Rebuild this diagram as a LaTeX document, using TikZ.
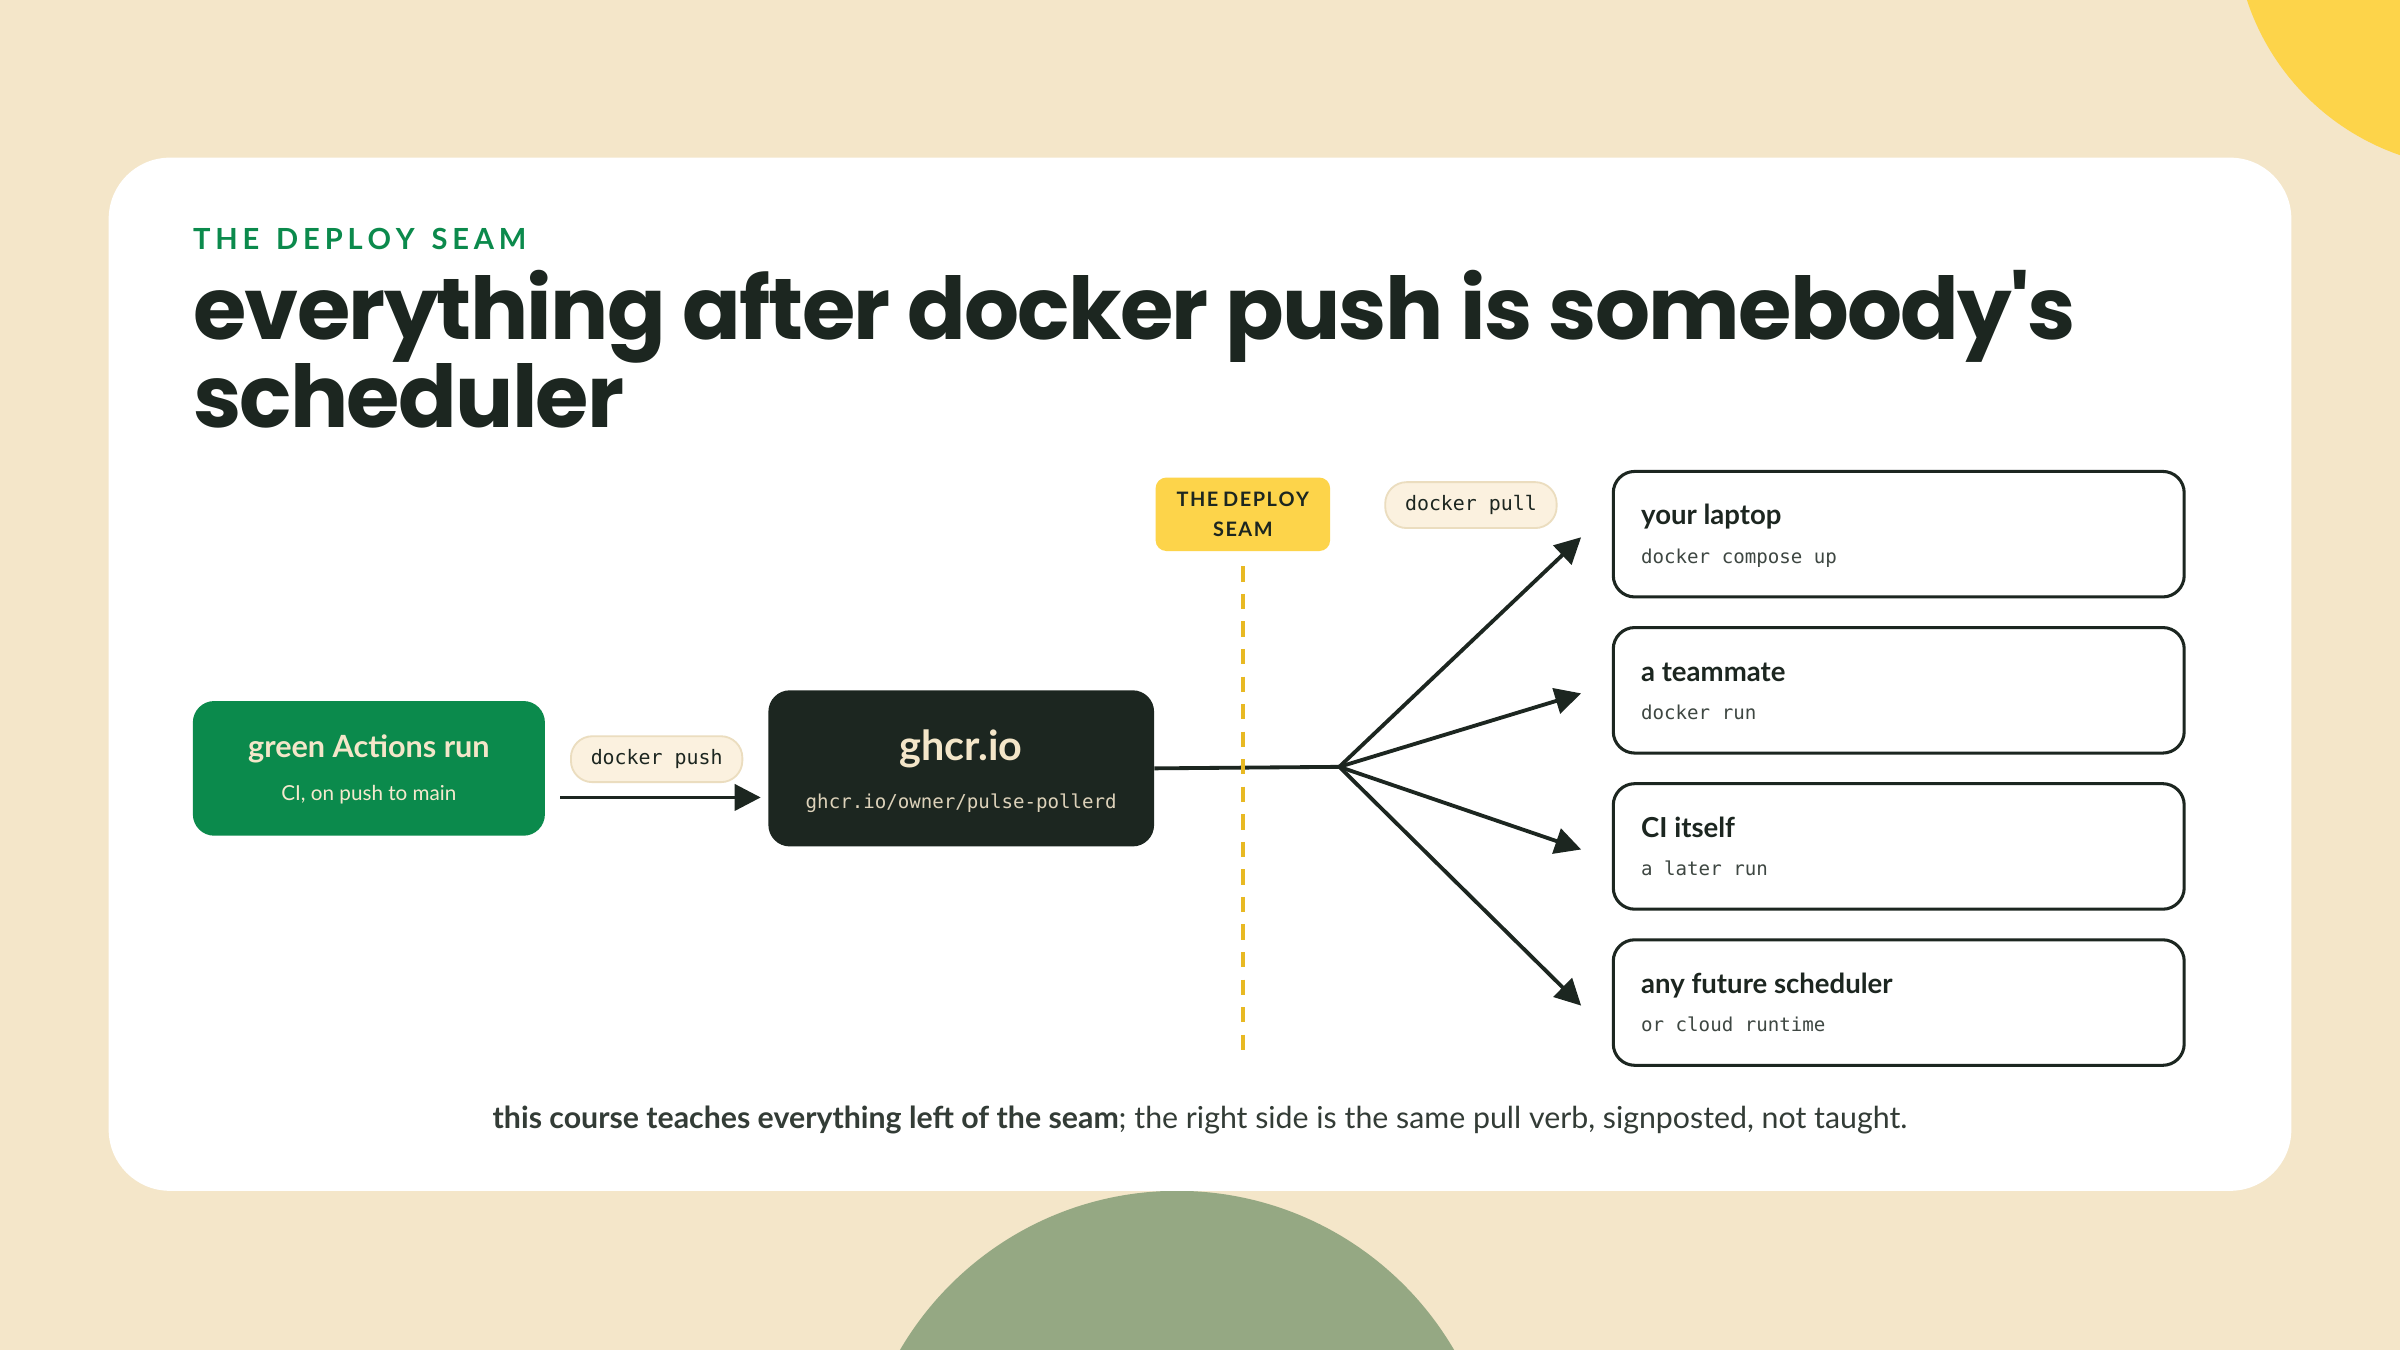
\documentclass[tikz,border=0pt]{standalone}
\usepackage{fontspec}
\setmainfont{Lato}
\setmonofont{DejaVu Sans Mono}
\newfontfamily\titlefont{Poppins}
\usetikzlibrary{arrows.meta}
\definecolor{bg}{HTML}{F4E6C9}
\definecolor{ink}{HTML}{1C2620}
\definecolor{grn}{HTML}{0B8A4C}
\definecolor{sage}{HTML}{95A883}
\definecolor{sun}{HTML}{FDD44A}
\definecolor{seam}{HTML}{E8B923}
\definecolor{pill}{HTML}{FBF1DF}
\definecolor{pillb}{HTML}{EBDDBF}
\definecolor{cream}{HTML}{F4E6C9}
\begin{document}
\begin{tikzpicture}[x=1pt,y=-1pt,
  pillst/.style={draw=pillb,line width=1.2pt,fill=pill,rounded corners=14pt,minimum width=112pt,minimum height=30pt,font=\ttfamily\fontsize{13}{15}\selectfont,text=ink,inner sep=0pt},
  dest/.style={draw=ink,line width=2pt,fill=white,rounded corners=14pt,minimum width=373pt,minimum height=82pt},
  dt/.style={anchor=base west,font=\bfseries\fontsize{18}{20}\selectfont,text=ink},
  ds/.style={anchor=base west,font=\ttfamily\fontsize{12.5}{15}\selectfont,text=ink!85},
  arr/.style={draw=ink,line width=2.5pt,-{Triangle[length=17pt,width=17pt]}}]
\fill[bg] (0,0) rectangle (1568,882);
\useasboundingbox (0,0) rectangle (1568,882);
\fill[sun] (1620,-50) circle (160);
\fill[sage] (769,987.5) circle (209.5);
\fill[white,rounded corners=40pt] (71,103) rectangle (1497,778);
\node[anchor=base west,text=grn,font=\bfseries\fontsize{19}{22}\selectfont,inner sep=0pt] (kick) at (126,163) {T\,H\,E\,\, D\,E\,P\,L\,O\,Y\,\, S\,E\,A\,M};
\node[anchor=base west,text=ink,font=\titlefont\bfseries\fontsize{56.5}{58}\selectfont,inner sep=0pt] (t1) at (126,222) {\addfontfeature{LetterSpace=-2}everything after docker push is somebody's};
\node[anchor=base west,text=ink,font=\titlefont\bfseries\fontsize{56.5}{58}\selectfont,inner sep=0pt] (t2) at (126,279) {\addfontfeature{LetterSpace=-2}scheduler};
% green box
\node[fill=grn,rounded corners=14pt,minimum width=230pt,minimum height=88pt] (ci) at (241,502) {};
\node[text=cream,font=\bfseries\fontsize{20}{22}\selectfont] (cit) at (241,489) {green Actions run};
\node[text=cream!90,font=\fontsize{13.5}{15}\selectfont] (cis) at (241,519) {CI, on push to main};
\node[pillst] (push) at (429,496) {docker push};
\coordinate (pa) at (366,521);
\coordinate (pb) at (497,521);
\draw[arr] (pa) -- (pb);
% registry
\node[fill=ink,rounded corners=14pt,minimum width=252pt,minimum height=102pt] (reg) at (628,502) {};
\node[text=cream,font=\bfseries\fontsize{27}{30}\selectfont] (regt) at (628,489) {ghcr.io};
\node[text=cream!80!gray,font=\ttfamily\fontsize{12.5}{14}\selectfont] (regs) at (628,525) {ghcr.io/owner/pulse-pollerd};
\coordinate (hub) at (875,501);
\draw[draw=ink,line width=2.5pt] (reg.east) -- (hub);
% seam
\node[fill=sun,rounded corners=7pt,minimum width=114pt,minimum height=48pt,align=center,font=\bfseries\fontsize{13}{19}\selectfont,text=ink] (badge) at (812,336) {T\kern1pt H\kern1pt E D\kern1pt E\kern1pt P\kern1pt L\kern1pt O\kern1pt Y\\S\kern1pt E\kern1pt A\kern1pt M};
\coordinate (s1) at (812,370);
\coordinate (s2) at (812,692);
\draw[seam,line width=3pt,dash pattern=on 10pt off 8pt] (s1) -- (s2);
\node[pillst] (pull) at (961,330) {docker pull};
% destinations
\foreach \y/\n/\a/\b in {349/d1/your laptop/docker compose up,451/d2/a teammate/docker run,553/d3/CI itself/a later run,655/d4/any future scheduler/or cloud runtime}{
  \node[dest] (\n) at (1240.5,\y) {};
  \node[dt,inner sep=0pt] at (1072,\y-6) {\a};
  \node[ds,inner sep=0pt] at (1072,\y+19) {\b};
  \coordinate (\n a) at (1033,\y+2);
  \draw[arr] (hub) -- (\n a);
}
\node[font=\fontsize{19.8}{22}\selectfont,text=ink!90] (cap) at (784,732) {\textbf{this course teaches everything left of the seam}; the right side is the same pull verb, signposted, not taught.};
\end{tikzpicture}
\end{document}
